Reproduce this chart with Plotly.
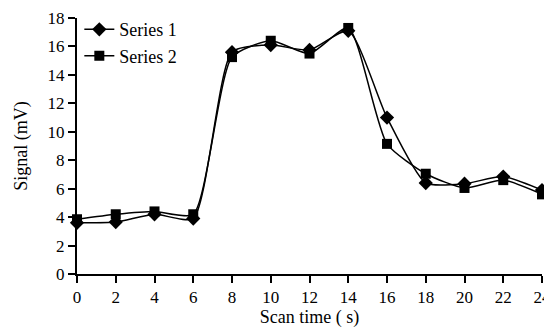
import plotly.graph_objects as go

scan_time = [0, 2, 4, 6, 8, 10, 12, 14, 16, 18, 20, 22, 24]
series1 = [3.6, 3.65, 4.2, 3.9, 15.6, 16.1, 15.75, 17.1, 11.0, 6.4, 6.35, 6.85, 5.9]
series2 = [3.85, 4.2, 4.4, 4.2, 15.25, 16.4, 15.5, 17.3, 9.15, 7.05, 6.05, 6.6, 5.6]

FONT = "Liberation Serif"

fig = go.Figure()
fig.add_trace(go.Scatter(
    x=scan_time, y=series1, name="Series 1", mode="lines+markers",
    line=dict(color="black", width=1.5, shape="spline", smoothing=0.6),
    marker=dict(symbol="diamond", size=11, color="black"),
    cliponaxis=False,
))
fig.add_trace(go.Scatter(
    x=scan_time, y=series2, name="Series 2", mode="lines+markers",
    line=dict(color="black", width=1.5, shape="spline", smoothing=0.6),
    marker=dict(symbol="square", size=10, color="black"),
    cliponaxis=False,
))

fig.update_layout(
    width=544, height=320,
    margin=dict(l=69, r=10, t=10, b=54, autoexpand=False),
    paper_bgcolor="white", plot_bgcolor="white",
    font=dict(family=FONT, size=18, color="black"),
    showlegend=True,
    legend=dict(x=0.005, y=1.027, xanchor="left", yanchor="top",
                bgcolor="rgba(0,0,0,0)", font=dict(family=FONT, size=18),
                tracegroupgap=0, itemwidth=30),
)
fig.update_xaxes(
    range=[0, 24], tickmode="array", tickvals=list(range(0, 25, 2)),
    showline=True, linecolor="black", linewidth=2,
    ticks="outside", ticklen=7, tickwidth=2, tickcolor="black",
    tickfont=dict(family=FONT, size=17, color="black"),
    showgrid=False, zeroline=False, automargin=False,
    title=dict(text="Scan time ( s)", font=dict(family=FONT, size=18)),
)
fig.update_yaxes(
    range=[0, 18], tickmode="array", tickvals=list(range(0, 19, 2)),
    showline=True, linecolor="black", linewidth=2,
    ticks="outside", ticklen=7, tickwidth=2, tickcolor="black",
    tickfont=dict(family=FONT, size=17, color="black"),
    showgrid=False, zeroline=False, automargin=False,
    title=dict(text="Signal (mV)", font=dict(family=FONT, size=18)),
)

fig.write_html("out.html")
